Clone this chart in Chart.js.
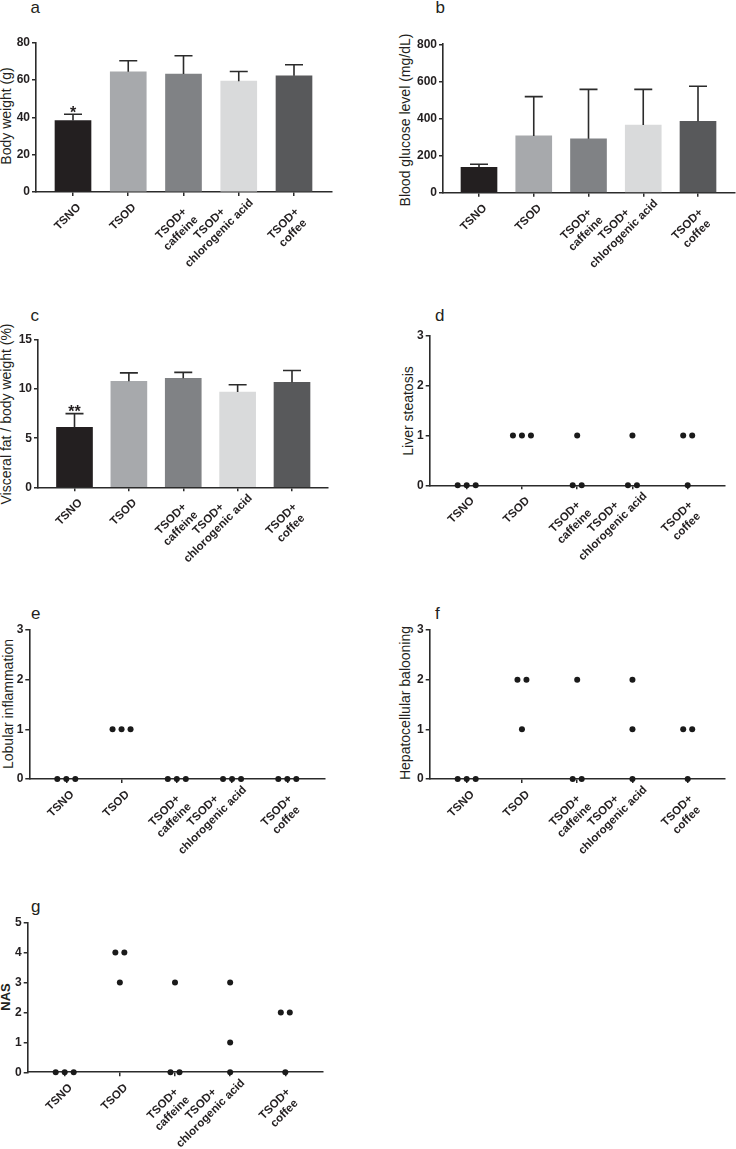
<!DOCTYPE html>
<html>
<head>
<meta charset="utf-8">
<script src="https://cdn.jsdelivr.net/npm/chart.js@4.4.0/dist/chart.umd.min.js"></script>
<style>
  html, body { margin: 0; padding: 0; background: #fff; }
  body { position: relative; width: 736px; height: 1149px; overflow: hidden;
         font-family: "Liberation Sans", Arial, sans-serif; color: #231f20; }
  canvas { position: absolute; }
  .letter { position: absolute; font-size: 17px; line-height: 17px; }
  .ytitle { position: absolute; font-size: 14px; line-height: 14px; white-space: nowrap;
            transform: translate(-50%, -50%) rotate(-90deg); }
</style>
</head>
<body>
<script>
// groups on the x axis (each entry = lines of the label)
const groups = [["TSNO"], ["TSOD"], ["TSOD+", "caffeine"], ["TSOD+", "chlorogenic acid"], ["TSOD+", "coffee"]];
const barColors = ["#231f20", "#a7a9ac", "#808285", "#d9dadb", "#58595b"];

// a - body weight (g), mean and upper error
const bodyWeight = [38.3, 64.4, 63.2, 59.4, 62.3];
const bodyWeightErr = [3.4, 5.9, 9.8, 5.2, 5.9];
// b - blood glucose (mg/dL)
const glucose = [137, 306, 291, 365, 385];
const glucoseErr = [16, 212, 266, 192, 189];
// c - visceral fat / body weight (%)
const visceralFat = [6.1, 10.8, 11.1, 9.7, 10.7];
const visceralFatErr = [1.4, 0.85, 0.6, 0.75, 1.2];

// d-g - histology scores, one value per animal
const steatosis = [[0, 0, 0], [1, 1, 1], [1, 0, 0], [1, 0, 0], [1, 1, 0]];
const inflammation = [[0, 0, 0], [1, 1, 1], [0, 0, 0], [0, 0, 0], [0, 0, 0]];
const ballooning = [[0, 0, 0], [2, 2, 1], [2, 0, 0], [2, 1, 0], [1, 1, 0]];
const nas = [[0, 0, 0], [4, 4, 3], [3, 0, 0], [3, 1, 0], [2, 2, 0]];

Chart.defaults.font.family = '"Liberation Sans", Arial, sans-serif';
Chart.defaults.color = "#231f20";

const AXIS = "#2b2b2b";
const SPREAD = 0.163; // horizontal gap between tied points (in group units)

// spread tied values side by side like a column scatter
function columnPoints(scores) {
  const pts = [];
  scores.forEach((vals, i) => {
    const seen = {};
    vals.forEach((v) => { seen[v] = (seen[v] || 0) + 1; });
    Object.keys(seen).forEach((v) => {
      const n = seen[v];
      for (let k = 0; k < n; k++) {
        pts.push({ x: i + (k - (n - 1) / 2) * SPREAD, y: Number(v) });
      }
    });
  });
  return pts;
}

const errPlugin = {
  id: "errbars",
  afterDatasetsDraw(chart, args, o) {
    if (!o.err) return;
    const { ctx, scales: { x, y } } = chart;
    const pts = chart.data.datasets[0].data;
    ctx.save();
    ctx.strokeStyle = AXIS;
    ctx.lineWidth = 1.6;
    pts.forEach((p, i) => {
      const px = x.getPixelForValue(p.x);
      const y0 = y.getPixelForValue(p.y);
      const y1 = y.getPixelForValue(p.y + o.err[i]);
      ctx.beginPath();
      ctx.moveTo(px, y0);
      ctx.lineTo(px, y1);
      ctx.moveTo(px - 9, y1);
      ctx.lineTo(px + 9, y1);
      ctx.stroke();
    });
    if (o.star) {
      ctx.fillStyle = "#231f20";
      ctx.font = 'bold 16px "Liberation Sans"';
      ctx.textAlign = "center";
      ctx.textBaseline = "alphabetic";
      ctx.fillText(o.star, x.getPixelForValue(0), y.getPixelForValue(pts[0].y + o.err[0]) + 3.5);
    }
    ctx.restore();
  }
};

// rotated, centred multi-line group labels
const labelPlugin = {
  id: "grouplabels",
  afterDraw(chart) {
    const { ctx, scales: { x }, chartArea } = chart;
    const k = Math.SQRT1_2, lh = 13.5;
    ctx.save();
    ctx.font = 'bold 11.5px "Liberation Sans"';
    ctx.fillStyle = "#231f20";
    ctx.textAlign = "center";
    ctx.textBaseline = "middle";
    groups.forEach((lines, i) => {
      const n = lines.length;
      const w = Math.max(...lines.map((s) => ctx.measureText(s).width));
      const cx = x.getPixelForValue(i) + 6 + (n - 1) * 2 - k * w / 2;
      const cy = chartArea.bottom + 25 + (n - 1) * 11.5;
      ctx.save();
      ctx.translate(cx, cy);
      ctx.rotate(-Math.PI / 4);
      lines.forEach((s, j) => ctx.fillText(s, 0, (j - (n - 1) / 2) * lh));
      ctx.restore();
    });
    ctx.restore();
  }
};

const panels = [
  { letter: "a", lx: 30.5, ly: -1.2, kind: "bar", vals: bodyWeight, err: bodyWeightErr, star: "*",
    L: 36, T: 42.7, B: 192, R: 332, c0: 73, c4: 294, max: 80, step: 20,
    title: "Body weight (g)", tx: 5.5, ty: 116 },
  { letter: "b", lx: 435.5, ly: -1.2, kind: "bar", vals: glucose, err: glucoseErr,
    L: 443, T: 44.3, B: 192.7, R: 735, c0: 479, c4: 698, max: 800, step: 200,
    title: "Blood glucose level (mg/dL)", tx: 404.5, ty: 120 },
  { letter: "c", lx: 30.5, ly: 307.3, kind: "bar", vals: visceralFat, err: visceralFatErr, star: "**",
    L: 38, T: 340, B: 487.3, R: 328, c0: 74.5, c4: 292, max: 15, step: 5,
    title: "Visceral fat / body weight (%)", tx: 5.5, ty: 414 },
  { letter: "d", lx: 435, ly: 307.3, kind: "dots", scores: steatosis,
    L: 429.7, T: 336, B: 485.3, R: 724.7, c0: 466.7, c4: 687.7, max: 3, step: 1,
    title: "Liver steatosis", tx: 408, ty: 411 },
  { letter: "e", lx: 31, ly: 605, kind: "dots", scores: inflammation,
    L: 29.3, T: 630, B: 779, R: 324.3, c0: 66.3, c4: 287.3, max: 3, step: 1,
    title: "Lobular inflammation", tx: 7.8, ty: 704 },
  { letter: "f", lx: 435, ly: 605, kind: "dots", scores: ballooning,
    L: 429.7, T: 630, B: 779, R: 724.7, c0: 466.7, c4: 687.7, max: 3, step: 1,
    title: "Hepatocellular balooning", tx: 405, ty: 703 },
  { letter: "g", lx: 31, ly: 898, kind: "dots", scores: nas,
    L: 27.7, T: 922.7, B: 1072.3, R: 322.7, c0: 64.7, c4: 285.3, max: 5, step: 1,
    title: "NAS", tx: 4.8, ty: 997, bold: true }
];

function addText(cls, text, left, top, extra) {
  const d = document.createElement("div");
  d.className = cls;
  d.textContent = text;
  d.style.left = left + "px";
  d.style.top = top + "px";
  if (extra) Object.assign(d.style, extra);
  document.body.appendChild(d);
}

panels.forEach((p) => {
  addText("letter", p.letter, p.lx, p.ly);
  addText("ytitle", p.title, p.tx, p.ty, p.bold ? { fontWeight: "bold", fontSize: "13px", lineHeight: "13px" } : null);

  const left = Math.round(p.L) - 26;
  const top = Math.round(p.T) - 12;
  const width = Math.round(p.R - left + 6);
  const height = Math.round(p.B - top + 90);
  const yW = p.L - left;
  const xH = top + height - p.B;
  const unit = (p.c4 - p.c0) / 4;

  const cv = document.createElement("canvas");
  cv.width = width;
  cv.height = height;
  cv.style.left = left + "px";
  cv.style.top = top + "px";
  document.body.appendChild(cv);

  const dataset = p.kind === "bar"
    ? { data: p.vals.map((v, i) => ({ x: i, y: v })), backgroundColor: barColors, barThickness: 36, borderWidth: 0 }
    : { data: columnPoints(p.scores), pointRadius: 3, pointBackgroundColor: "#1a1a1a", pointBorderWidth: 0, clip: false };

  new Chart(cv, {
    type: p.kind === "bar" ? "bar" : "scatter",
    data: { datasets: [dataset] },
    options: {
      responsive: false,
      animation: false,
      devicePixelRatio: 1,
      events: [],
      layout: { padding: { left: 0, top: p.T - top, right: width - (p.R - left), bottom: 0 } },
      plugins: {
        legend: { display: false },
        tooltip: { enabled: false },
        errbars: { err: p.err, star: p.star }
      },
      scales: {
        x: {
          type: "linear",
          offset: false, // bar charts turn this on by default
          min: (p.L - p.c0) / unit,
          max: 4 + (p.R - p.c4) / unit,
          afterBuildTicks: (s) => { s.ticks = groups.map((g, i) => ({ value: i })); },
          afterFit: (s) => { s.height = xH; },
          ticks: { display: false },
          grid: { offset: false, drawOnChartArea: false, drawTicks: true, tickLength: 4, color: AXIS, lineWidth: 1.5 },
          border: { color: AXIS, width: 1.6 }
        },
        y: {
          min: 0,
          max: p.max,
          afterFit: (s) => { s.width = yW; },
          ticks: { stepSize: p.step, padding: 2, color: "#231f20", font: { size: 12, weight: "bold" } },
          grid: { drawOnChartArea: false, tickLength: 4, color: AXIS, lineWidth: 1.5 },
          border: { color: AXIS, width: 1.6 }
        }
      }
    },
    plugins: [errPlugin, labelPlugin]
  });
});
</script>
</body>
</html>
